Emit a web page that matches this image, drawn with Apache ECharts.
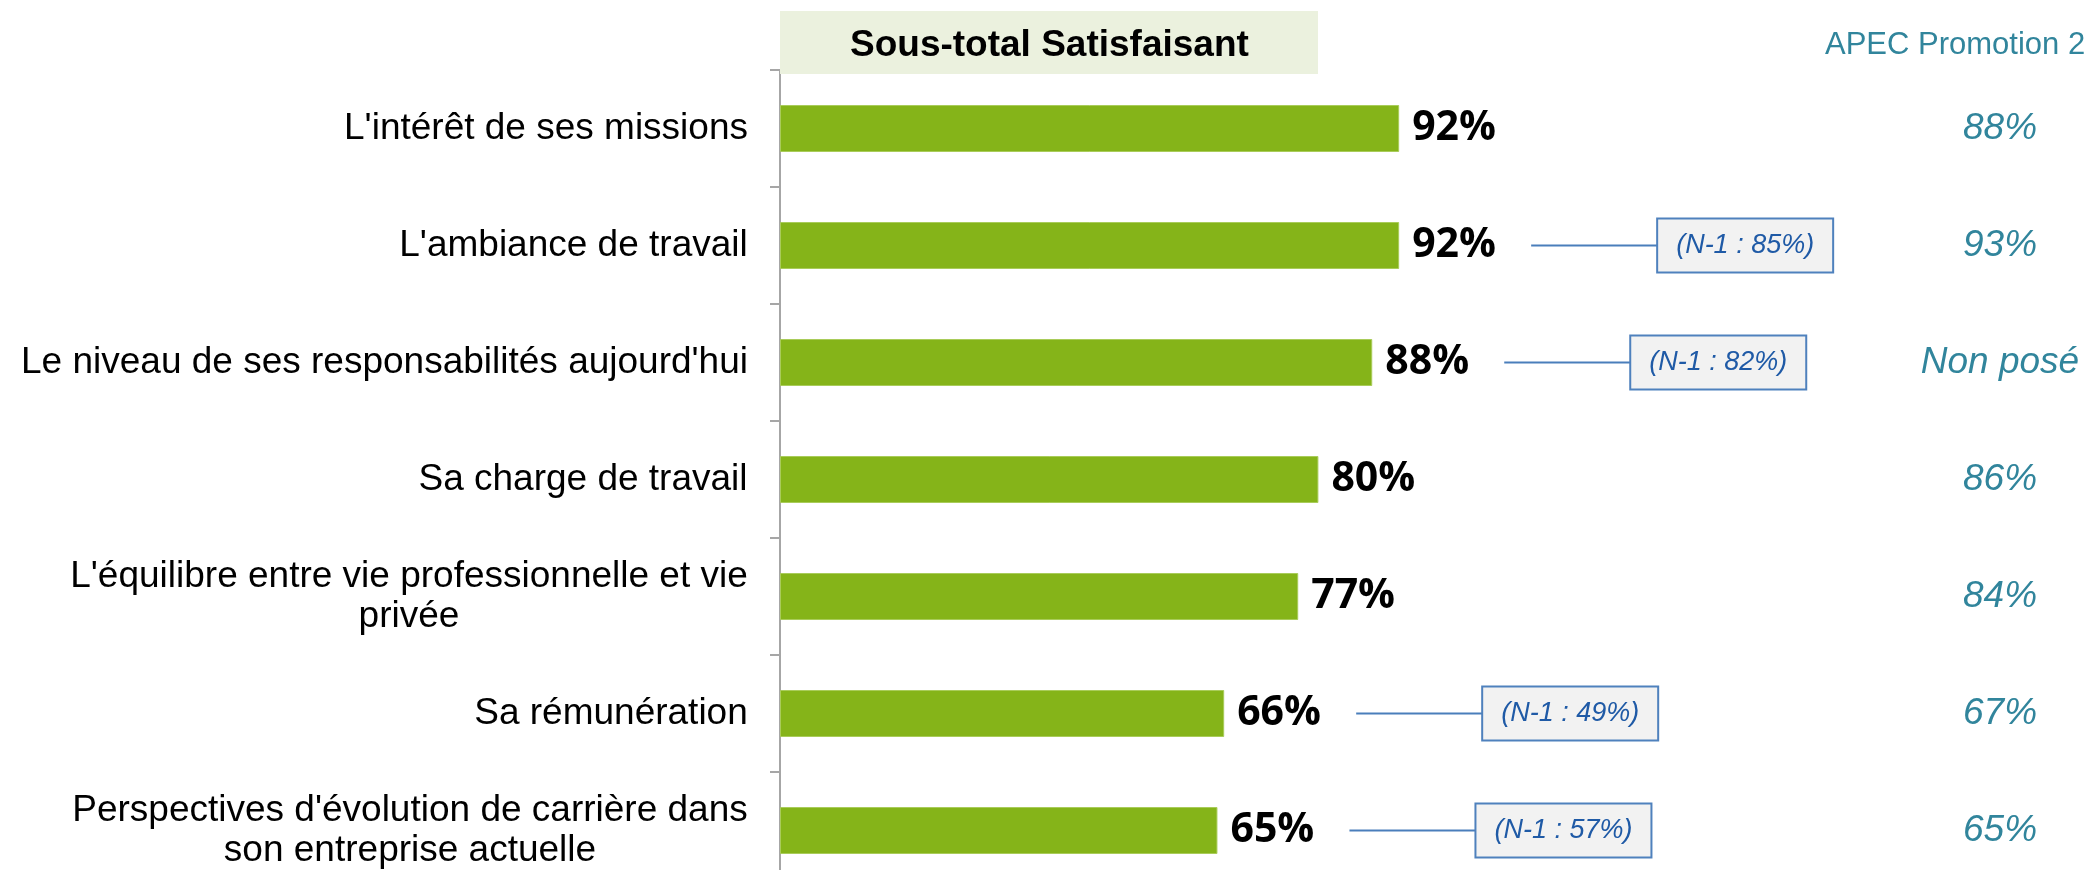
<!DOCTYPE html>
<html>
<head>
<meta charset="utf-8">
<script src="https://cdn.jsdelivr.net/npm/echarts@6/dist/echarts.min.js"></script>
<style>
  html, body { margin: 0; padding: 0; background: #fff; }
  #chart { width: 2084px; height: 870px; }
</style>
</head>
<body>
<div id="chart"></div>
<script>
// libellés des items (de haut en bas)
const categories = [
  "L'intérêt de ses missions",
  "L'ambiance de travail",
  "Le niveau de ses responsabilités aujourd'hui",
  "Sa charge de travail",
  "L'équilibre entre vie professionnelle et vie\nprivée",
  "Sa rémunération",
  "Perspectives d'évolution de carrière dans\nson entreprise actuelle"
];
// sous-total satisfaisant (%)
const satisfait = [92, 92, 88, 80, 77, 66, 65];
// rappel N-1 (%), null = pas de rappel
const prevYear = [null, 85, 82, null, null, 49, 57];
// colonne APEC
const apec = ["88%", "93%", "Non posé", "86%", "84%", "67%", "65%"];

const chart = echarts.init(document.getElementById("chart"));

const labelFont = "37px 'Liberation Sans'";

// lignes centrées entre elles pour les libellés sur deux lignes
const measureCtx = document.createElement("canvas").getContext("2d");
measureCtx.font = labelFont;
const labelRich = {};
categories.forEach(function (c, i) {
  const w = Math.max.apply(null, c.split("\n").map(function (l) {
    return measureCtx.measureText(l).width;
  }));
  labelRich["l" + i] = { width: Math.ceil(w), align: "center", lineHeight: 40 };
});

const prevData = [];
prevYear.forEach(function (p, i) {
  if (p !== null) prevData.push([satisfait[i], i, "(N-1 : " + p + "%)"]);
});

const option = {
  animation: false,
  grid: { left: 780, top: 70, width: 673, height: 819, outerBoundsMode: "none" },
  graphic: [
    {
      type: "rect",
      left: 780, top: 11,
      shape: { width: 538, height: 63 },
      style: { fill: "#EBF1DE" },
      z: 10
    },
    {
      type: "text",
      left: 850, top: 27,
      style: { text: "Sous-total Satisfaisant", font: "bold 37px 'Liberation Sans'", fill: "#000" },
      z: 11
    },
    {
      type: "text",
      left: 1825, top: 30,
      style: { text: "APEC Promotion 2", font: "31px 'Liberation Sans'", fill: "#31859C" },
      z: 11
    }
  ],
  xAxis: {
    type: "value",
    min: 0,
    max: 100,
    show: false
  },
  yAxis: [
    {
      type: "category",
      inverse: true,
      data: categories,
      axisLine: { show: true, lineStyle: { color: "#A6A6A6", width: 2 } },
      axisTick: { show: true, length: 10, lineStyle: { color: "#A6A6A6", width: 2 } },
      axisLabel: {
        margin: 32,
        color: "#000",
        fontFamily: "Liberation Sans",
        fontSize: 37,
        lineHeight: 40,
        align: "right",
        formatter: function (value, idx) {
          return value.split("\n").map(function (l) {
            return "{l" + idx + "|" + l + "}";
          }).join("\n");
        },
        rich: labelRich
      }
    },
    {
      type: "category",
      inverse: true,
      position: "right",
      data: apec,
      axisLine: { show: false },
      axisTick: { show: false },
      axisLabel: {
        margin: 547,
        align: "center",
        color: "#31859C",
        fontFamily: "Liberation Sans",
        fontStyle: "italic",
        fontSize: 37
      }
    }
  ],
  series: [
    {
      type: "bar",
      data: satisfait,
      barWidth: 47,
      itemStyle: { color: "#85B419", borderColor: "#A9CC5A", borderWidth: 1 },
      label: {
        show: true,
        position: "right",
        distance: 13,
        formatter: "{c}%",
        color: "#000",
        fontFamily: "Open Sans",
        fontWeight: "bold",
        fontSize: 41
      }
    },
    {
      type: "custom",
      data: prevData,
      encode: { x: 0, y: 1 },
      z: 5,
      renderItem: function (params, api) {
        const p = api.coord([api.value(0), api.value(1)]);
        const txt = prevData[params.dataIndex][2];
        return {
          type: "group",
          children: [
            {
              type: "line",
              shape: { x1: p[0] + 132, y1: p[1], x2: p[0] + 258, y2: p[1] },
              style: { stroke: "#4A7EBB", lineWidth: 2 }
            },
            {
              type: "rect",
              shape: { x: p[0] + 258, y: p[1] - 27, width: 176, height: 54 },
              style: { fill: "#F2F2F2", stroke: "#4F81BD", lineWidth: 2 }
            },
            {
              type: "text",
              style: {
                text: txt,
                x: p[0] + 346, y: p[1],
                align: "center", verticalAlign: "middle",
                font: "italic 27px 'Liberation Sans'",
                fill: "#1F5AA6"
              }
            }
          ]
        };
      }
    }
  ]
};

chart.setOption(option);
</script>
</body>
</html>
